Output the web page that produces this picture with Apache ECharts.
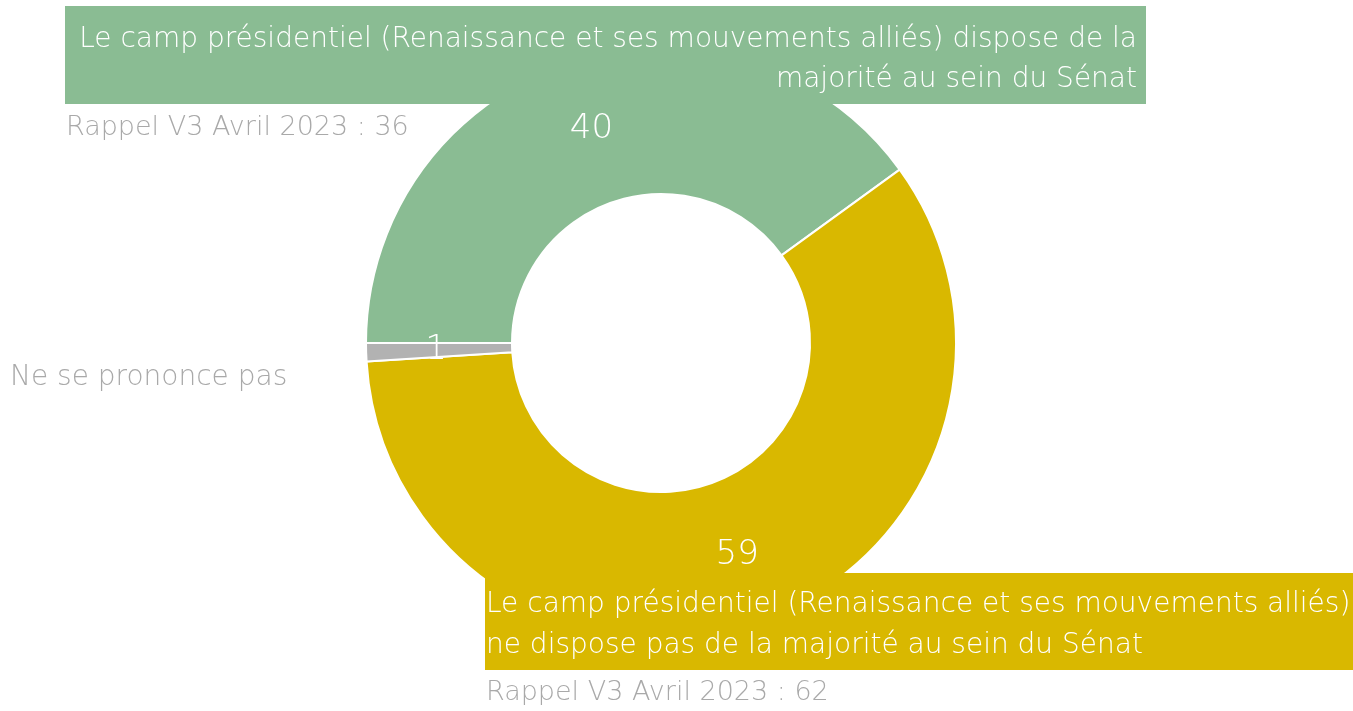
<!DOCTYPE html>
<html>
<head>
<meta charset="utf-8">
<style>
  html, body { margin: 0; padding: 0; background: #fff; }
  #chart { width: 1353px; height: 711px; }
</style>
<script src="https://cdn.jsdelivr.net/npm/echarts@6/dist/echarts.min.js"></script>
</head>
<body>
<div id="chart"></div>
<script>
// donnees
var categories = [
  'Le camp présidentiel (Renaissance et ses mouvements alliés) dispose de la\nmajorité au sein du Sénat',
  'Le camp présidentiel (Renaissance et ses mouvements alliés)\nne dispose pas de la majorité au sein du Sénat',
  'Ne se prononce pas'
];
var values = [40, 59, 1];
var rappels = ['Rappel V3 Avril 2023 : 36', 'Rappel V3 Avril 2023 : 62', ''];
var colors = ['#8abc93', '#d9b800', '#b2b2b2'];

var FONT = 'DejaVu Sans';
var GREY = '#a9a9a9';
var myChart = echarts.init(document.getElementById('chart'));

var option = {
  animation: false,
  color: colors,
  series: [{
    type: 'pie',
    center: [661, 343],
    radius: [149, 295],
    startAngle: 180,
    clockwise: true,
    itemStyle: { borderColor: '#fff', borderWidth: 2 },
    label: {
      position: 'inside',
      formatter: '{c}',
      color: '#fff',
      fontSize: 34,
      fontFamily: FONT,
      fontWeight: 200
    },
    labelLine: { show: false },
    data: categories.map(function (c, i) {
      return { name: c, value: values[i] };
    })
  }],
  graphic: [
    // boite verte
    { type: 'rect', z: 100, shape: { x: 65, y: 6, width: 1081, height: 98 }, style: { fill: colors[0] } },
    { type: 'text', z: 101, x: 1137, y: 20, style: {
        text: categories[0], fill: '#fff', fontSize: 28, fontFamily: FONT, fontWeight: 200,
        align: 'right', verticalAlign: 'top', lineHeight: 40 } },
    { type: 'text', z: 101, x: 66, y: 128, style: {
        text: rappels[0], fill: GREY, fontSize: 27, fontFamily: FONT, fontWeight: 200,
        align: 'left', verticalAlign: 'middle' } },
    // boite jaune
    { type: 'rect', z: 100, shape: { x: 485, y: 573, width: 868, height: 97 }, style: { fill: colors[1] } },
    { type: 'text', z: 101, x: 486, y: 584, style: {
        text: categories[1], fill: '#fff', fontSize: 28, fontFamily: FONT, fontWeight: 200,
        align: 'left', verticalAlign: 'top', lineHeight: 41 } },
    { type: 'text', z: 101, x: 486, y: 693, style: {
        text: rappels[1], fill: GREY, fontSize: 27, fontFamily: FONT, fontWeight: 200,
        align: 'left', verticalAlign: 'middle' } },
    // NSP
    { type: 'text', z: 101, x: 10, y: 378, style: {
        text: categories[2], fill: GREY, fontSize: 28, fontFamily: FONT, fontWeight: 200,
        align: 'left', verticalAlign: 'middle' } }
  ]
};

myChart.setOption(option);
</script>
</body>
</html>
